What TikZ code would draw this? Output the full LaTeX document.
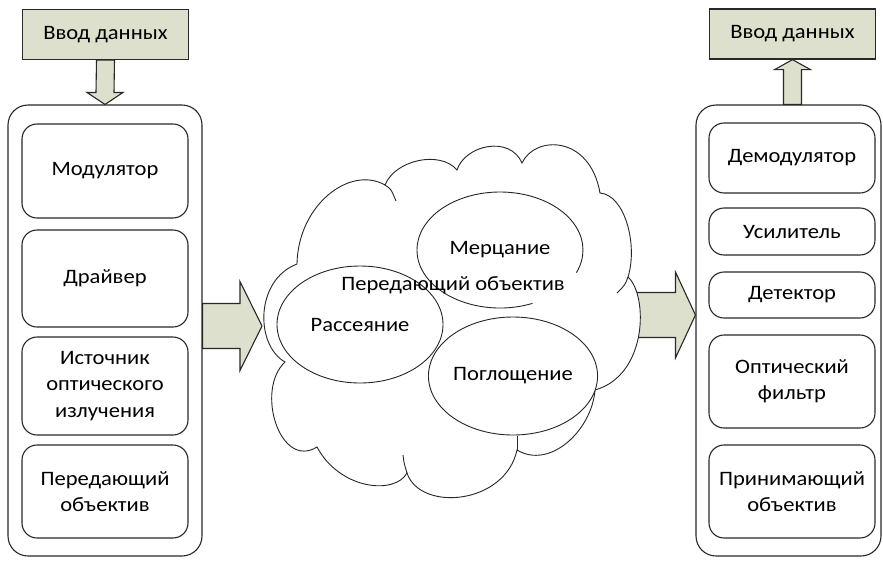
\documentclass[tikz,border=0pt]{standalone}
\usepackage{fontspec}
\setmainfont[FakeStretch=1.1]{Carlito}
\usetikzlibrary{calc,shapes.geometric}
\definecolor{boxfill}{RGB}{221,224,204}
\definecolor{edge}{RGB}{40,40,40}
\begin{document}
\begin{tikzpicture}[x=1pt,y=-1pt,
  font=\fontsize{20.5}{26.5}\selectfont,
  databox/.style={draw=edge, fill=boxfill, line width=1.3pt, minimum width=166pt, minimum height=50pt, inner sep=0pt},
  outerbox/.style={draw=edge, line width=1.1pt, rounded corners=20pt, inner sep=0pt},
  innerbox/.style={draw=edge, line width=1.1pt, rounded corners=15pt, minimum width=166pt, align=center, inner sep=0pt},
  blockarrow/.style={draw=edge, fill=boxfill, line width=1.1pt, line join=miter},
  cloudline/.style={draw=black!85, line width=0.9pt},
  oval/.style={ellipse, draw=black!85, fill=white, line width=0.9pt, inner sep=0pt, minimum width=166pt, minimum height=117pt}]
\useasboundingbox (0,0) rectangle (883,560);

% top data boxes
\node[databox] (inL) at (105.5,34.5) {Ввод данных};
\node[databox] (outR) at (792.5,34) {Ввод данных};

% containers
\node[outerbox, minimum width=194pt, minimum height=451pt] (lc) at (105,330.5) {};
\node[outerbox, minimum width=185pt, minimum height=451pt] (rc) at (788.5,330.5) {};

% left inner boxes
\node[innerbox, minimum height=94pt] (m1) at (105,171) {Модулятор};
\node[innerbox, minimum height=97pt] (m2) at (105,278.5) {Драйвер};
\node[innerbox, minimum height=98pt] (m3) at (105,386) {Источник\\оптического\\излучения};
\node[innerbox, minimum height=93pt] (m4) at (105,491.5) {Передающий\\объектив};

% right inner boxes
\node[innerbox, minimum height=70pt] (r1) at (792,158) {Демодулятор};
\node[innerbox, minimum height=47pt] (r2) at (792,231.5) {Усилитель};
\node[innerbox, minimum height=46pt] (r3) at (792,295) {Детектор};
\node[innerbox, minimum height=93pt] (r4) at (792,381.5) {Оптический\\фильтр};
\node[innerbox, minimum height=93pt] (r5) at (792,491.5) {Принимающий\\объектив};

% cloud anchor points
\coordinate (cloudW) at (262,326);
\coordinate (cloudE) at (632,315);

% down arrow (input -> left container)
\draw[blockarrow] ($(inL.south)+(-9,0)$) -- ($(lc.north)+(-9,-12)$) -- ($(lc.north)+(-18,-12)$)
  -- (lc.north) -- ($(lc.north)+(18,-12)$) -- ($(lc.north)+(9,-12)$) -- ($(inL.south)+(9,0)$) -- cycle;

% up arrow (right container -> output)
\draw[blockarrow] ($(outR.south |- rc.north)+(-9,0)$) -- ($(outR.south)+(-9,10)$) -- ($(outR.south)+(-18,10)$)
  -- (outR.south) -- ($(outR.south)+(18,10)$) -- ($(outR.south)+(9,10)$) -- ($(outR.south |- rc.north)+(9,0)$) -- cycle;

% left container -> cloud
\draw[blockarrow] ($(lc.east |- cloudW)+(0,-22.5)$) -- ($(cloudW)+(-22,-22.5)$) -- ($(cloudW)+(-22,-44.5)$)
  -- (cloudW) -- ($(cloudW)+(-22,44.5)$) -- ($(cloudW)+(-22,22.5)$) -- ($(lc.east |- cloudW)+(0,22.5)$) -- cycle;

% cloud -> right container
\draw[blockarrow] ($(cloudE)+(0,-22.5)$) -- ($(rc.west |- cloudE)+(-20,-22.5)$) -- ($(rc.west |- cloudE)+(-20,-43)$)
  -- (rc.west |- cloudE) -- ($(rc.west |- cloudE)+(-20,43)$) -- ($(rc.west |- cloudE)+(-20,22.5)$) -- ($(cloudE)+(0,22.5)$) -- cycle;

% cloud
\path[cloudline, fill=white] (297,264) .. controls (298,205) and (350,165) .. (385,185)
  .. controls (395,160) and (440,150) .. (457,170)
  .. controls (465,145) and (510,135) .. (522,163)
  .. controls (535,135) and (590,135) .. (600,193)
  .. controls (625,195) and (638,245) .. (628,277)
  .. controls (648,295) and (648,375) .. (595,390)
  .. controls (592,430) and (550,470) .. (517,450)
  .. controls (505,505) and (420,512) .. (407,473)
  .. controls (395,495) and (340,490) .. (317,447)
  .. controls (280,470) and (255,390) .. (285,362)
  .. controls (255,345) and (255,280) .. (297,264) -- cycle;
% inner tails of the cloud lobes
\draw[cloudline] (385,185) .. controls (391,189) .. (396,201);
\draw[cloudline] (628,277) .. controls (625,285) .. (617,293);
\draw[cloudline] (517,450) -- (517,436);
\draw[cloudline] (407,473) .. controls (404,463) .. (403,455);

% effects
\node[oval, draw=none] (mer) at (500,250) {Мерцание};
\draw[cloudline] (532.4,303.4) arc[start angle=67, end angle=383, x radius=83, y radius=58];
\node[oval, minimum height=117pt] (ras) at (360,324.5) {Рассеяние};
\node[oval, minimum height=118pt] (pog) at (513,376) {Поглощение};
\node (lens) at (453,285) {Передающий объектив};
\end{tikzpicture}
\end{document}
